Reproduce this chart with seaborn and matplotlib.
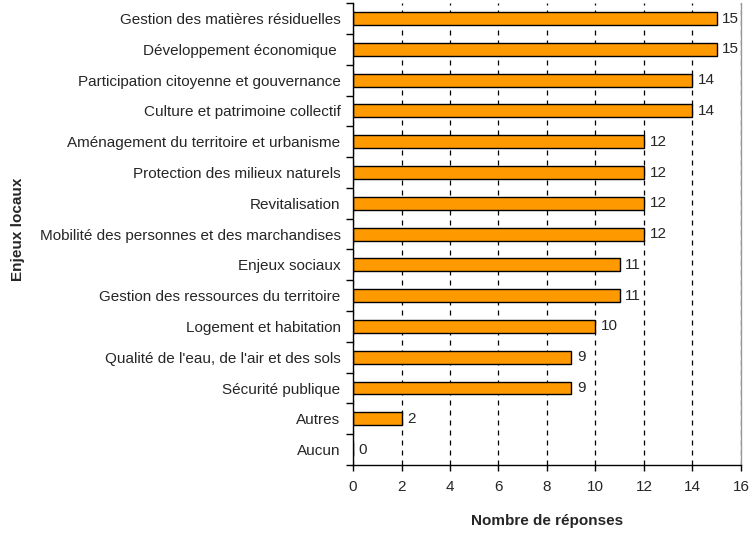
import matplotlib
matplotlib.use("Agg")
import matplotlib.pyplot as plt
import seaborn as sns
import pandas as pd
import numpy as np

categories = [
    "Gestion des matières résiduelles",
    "Développement économique ",
    "Participation citoyenne et gouvernance",
    "Culture et patrimoine collectif",
    "Aménagement du territoire et urbanisme",
    "Protection des milieux naturels",
    "Revitalisation",
    "Mobilité des personnes et des marchandises",
    "Enjeux sociaux",
    "Gestion des ressources du territoire",
    "Logement et habitation",
    "Qualité de l'eau, de l'air et des sols",
    "Sécurité publique",
    "Autres",
    "Aucun",
]
responses = [15, 15, 14, 14, 12, 12, 12, 12, 11, 11, 10, 9, 9, 2, 0]
x_ticks = [0, 2, 4, 6, 8, 10, 12, 14, 16]

df = pd.DataFrame({"enjeu": categories, "n": responses})

sns.set_style("white")
plt.rcParams["font.family"] = ["Liberation Sans", "DejaVu Sans"]

fig = plt.figure(figsize=(7.49, 5.33), dpi=100)
ax = fig.add_axes([0.4713, 0.1276, 0.518, 0.8664])

sns.barplot(data=df, x="n", y="enjeu", color="#FF9900", edgecolor="black",
            linewidth=1, width=0.42, saturation=1, ax=ax)

ax.set_xlim(0, 16)
ax.set_ylim(len(categories) - 0.5, -0.5)
ax.set_xticks(x_ticks)
ax.set_xticklabels([str(t) for t in x_ticks], fontsize=11)
ax.tick_params(axis="x", bottom=True, direction="out", length=4, width=1,
               color="black", pad=7)
ax.tick_params(axis="y", which="major", left=True, length=0, labelsize=11, pad=9)
ax.set_yticks(np.arange(-0.5, len(categories), 1), minor=True)
ax.tick_params(axis="y", which="minor", left=True, direction="out", length=5,
               width=1, color="black")

# dashed vertical grid like the original spreadsheet chart
ax.grid(axis="x", linestyle=(0, (4, 4)), color="black", linewidth=0.9)
ax.set_axisbelow(True)

for s in ["left", "bottom"]:
    ax.spines[s].set_color("black")
    ax.spines[s].set_linewidth(1)
ax.spines["top"].set_visible(False)
ax.spines["right"].set_color("#999999")
ax.spines["right"].set_linewidth(1)

for i, v in enumerate(responses):
    ax.annotate(str(v), xy=(v, i), xytext=(4, 0), textcoords="offset points",
                va="center", ha="left", fontsize=11)

ax.set_xlabel("Nombre de réponses", fontsize=11, fontweight="bold", labelpad=14)
ax.set_ylabel("Enjeux locaux", fontsize=11, fontweight="bold")
ax.yaxis.set_label_coords(-0.845, 0.51)

fig.savefig("out.png", dpi=100)
